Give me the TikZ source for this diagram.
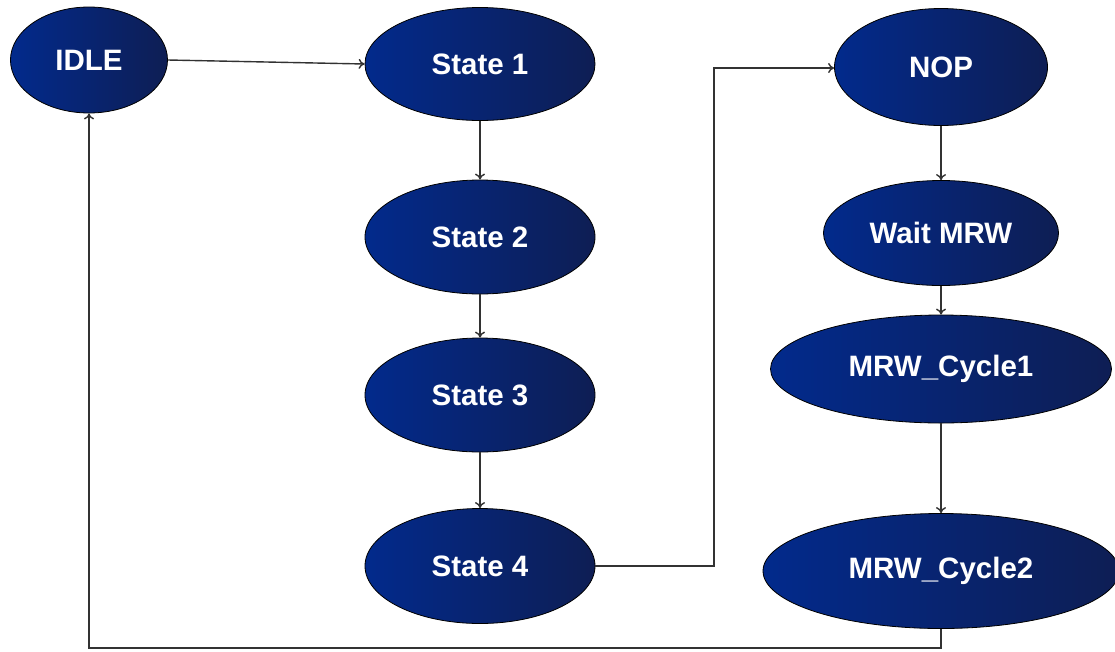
\documentclass[tikz,border=0pt]{standalone}
\usepackage{fontspec}
\setmainfont{Liberation Sans}
\usetikzlibrary{shapes.geometric,arrows.meta}
\begin{document}
\begin{tikzpicture}[x=1pt,y=-1pt,
  st/.style={ellipse, draw=black, line width=0.8pt, inner sep=0pt,
    left color={rgb,255:red,2;green,42;blue,140},
    right color={rgb,255:red,14;green,30;blue,84},
    text=white, font=\fontsize{29.5}{31}\selectfont\bfseries},
  link/.style={draw={rgb,255:red,50;green,50;blue,50}, line width=1.4pt,
    -{To[length=6pt,width=10pt]}}]
\useasboundingbox (0,0) rectangle (1115,651);
\fill[white] (0,0) rectangle (1115,651);

% left column: idle and the four sequential states
\node[st, minimum width=157pt, minimum height=106pt] (idle) at (89,60) {IDLE};
\node[st, minimum width=230pt, minimum height=113pt] (s1) at (480,64) {State 1};
\node[st, minimum width=230pt, minimum height=114pt] (s2) at (480,237) {State 2};
\node[st, minimum width=230pt, minimum height=114pt] (s3) at (480,395) {State 3};
\node[st, minimum width=230pt, minimum height=115pt] (s4) at (480,566) {State 4};

% right column: NOP and the MRW sequence
\node[st, minimum width=213pt, minimum height=117pt] (nop) at (941,67) {NOP};
\node[st, minimum width=235pt, minimum height=105pt] (wait) at (941,233) {Wait MRW};
\node[st, minimum width=341pt, minimum height=108pt] (c1) at (941,369) {MRW\_Cycle1};
\node[st, minimum width=356pt, minimum height=115pt] (c2) at (941,571) {MRW\_Cycle2};

\coordinate (j1) at (714,566);
\coordinate (j2) at (714,68);
\coordinate (r1) at (941,648);
\coordinate (r2) at (89,648);

\draw[link] (idle.east) -- (s1.west);
\draw[link] (s1) -- (s2);
\draw[link] (s2) -- (s3);
\draw[link] (s3) -- (s4);
\draw[link] (s4.east) -- (j1) -- (j2) -- (nop.west |- j2);
\draw[link] (nop) -- (wait);
\draw[link] (wait) -- (c1);
\draw[link] (c1) -- (c2);
\draw[link] (c2.south) -- (r1) -- (r2) -- (idle.south);
\end{tikzpicture}
\end{document}
